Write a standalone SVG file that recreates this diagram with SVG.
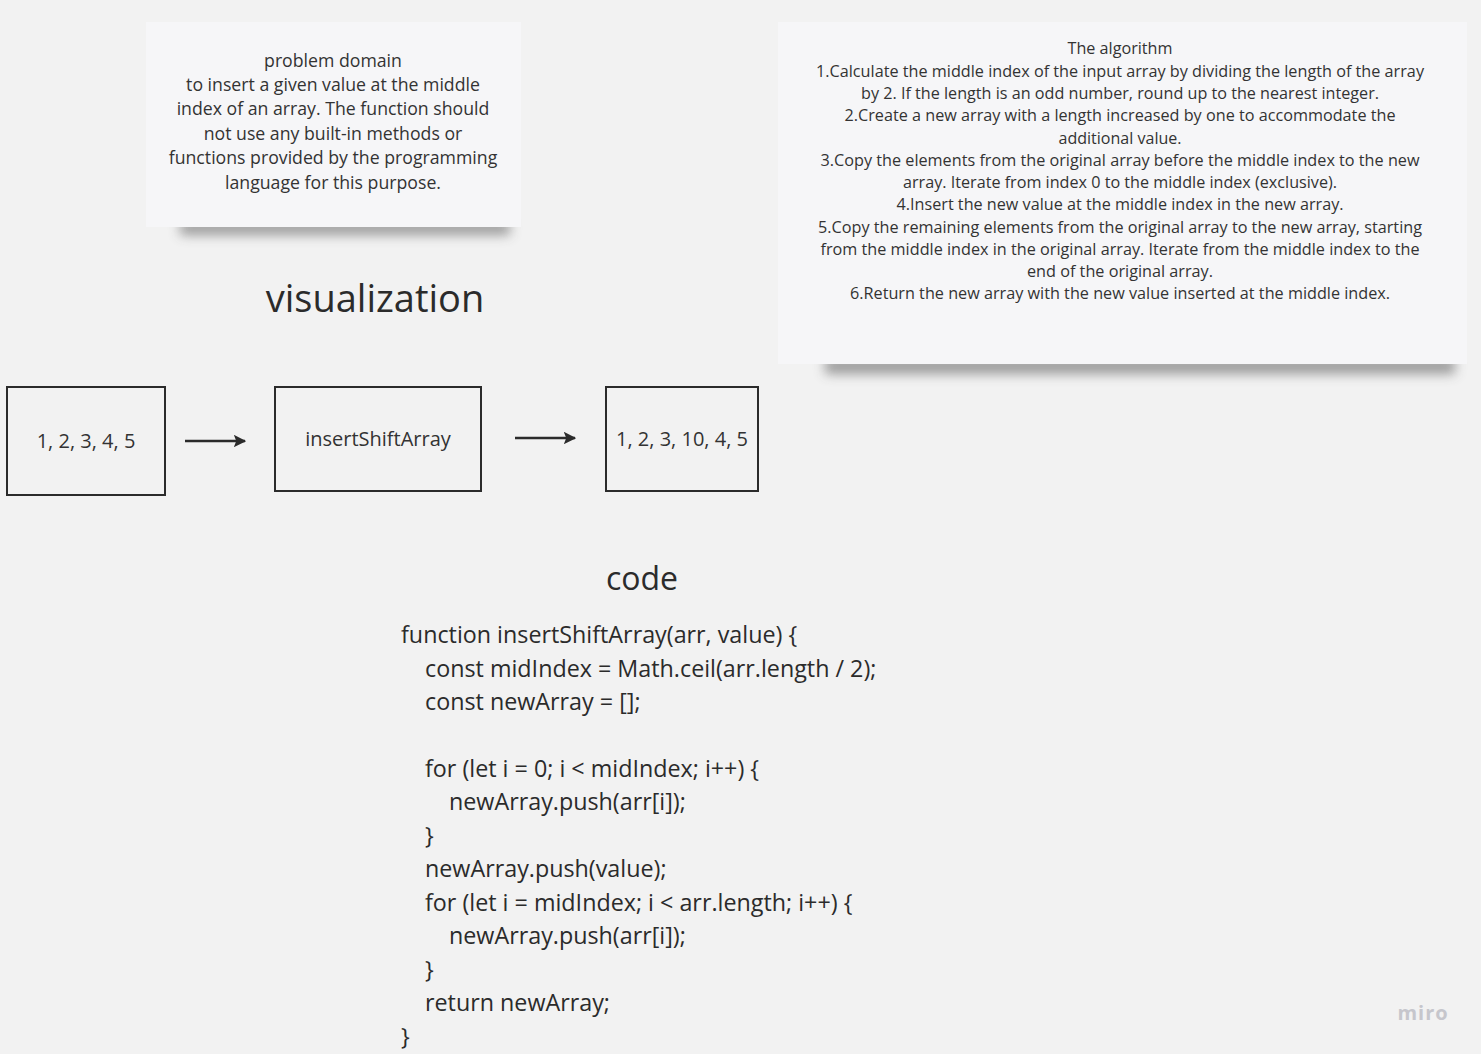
<svg xmlns="http://www.w3.org/2000/svg" width="1481" height="1054" viewBox="0 0 1481 1054">
<defs>
<filter id="sh" x="-20%" y="-100%" width="140%" height="300%"><feGaussianBlur stdDeviation="6"/></filter>
<marker id="ah" viewBox="0 0 10 10" refX="9" refY="5" markerWidth="5" markerHeight="5" orient="auto" markerUnits="strokeWidth"><path d="M0,0 L10,5 L0,10 L2,5 z" fill="#2b2b2b"/></marker>
<style>
text{font-family:"Open Sans","Noto Sans","Liberation Sans",sans-serif;fill:#2b2b2b}
.pd{font-size:17.7px;text-anchor:middle;fill:#333}
.al{font-size:15.5px;text-anchor:middle;fill:#333}
.box{fill:none;stroke:#2b2b2b;stroke-width:2}
.bt{font-size:20px;text-anchor:middle;fill:#333}
.code{font-size:23.3px;fill:#2b2b2b}
.conn{stroke:#2b2b2b;stroke-width:2.5;fill:none}
.logo{font-size:20px;font-weight:bold;text-anchor:middle;fill:#c6c6cc;letter-spacing:1px}
</style>
</defs>
<rect width="1481" height="1054" fill="#f2f2f2"/>

<g id="problem-domain">
<rect x="180" y="221" width="330" height="14" fill="#444" opacity="0.5" filter="url(#sh)"/>
<rect x="146" y="22" width="375" height="205" fill="#f6f6f8"/>
<text class="pd" x="333" y="67">problem domain</text>
<text class="pd" x="333" y="91">to insert a given value at the middle</text>
<text class="pd" x="333" y="115">index of an array. The function should</text>
<text class="pd" x="333" y="140">not use any built-in methods or</text>
<text class="pd" x="333" y="164">functions provided by the programming</text>
<text class="pd" x="333" y="189">language for this purpose.</text>
</g>

<g id="algorithm">
<rect x="825" y="358" width="630" height="16" fill="#444" opacity="0.5" filter="url(#sh)"/>
<rect x="778" y="22" width="689" height="342" fill="#f6f6f8"/>
<text class="al" x="1120" y="54" textLength="105" lengthAdjust="spacingAndGlyphs">The algorithm</text>
<text class="al" x="1120" y="77" textLength="608" lengthAdjust="spacingAndGlyphs">1.Calculate the middle index of the input array by dividing the length of the array</text>
<text class="al" x="1120" y="99" textLength="518" lengthAdjust="spacingAndGlyphs">by 2. If the length is an odd number, round up to the nearest integer.</text>
<text class="al" x="1120" y="121" textLength="551" lengthAdjust="spacingAndGlyphs">2.Create a new array with a length increased by one to accommodate the</text>
<text class="al" x="1120" y="144" textLength="123" lengthAdjust="spacingAndGlyphs">additional value.</text>
<text class="al" x="1120" y="166" textLength="599" lengthAdjust="spacingAndGlyphs">3.Copy the elements from the original array before the middle index to the new</text>
<text class="al" x="1120" y="188" textLength="434" lengthAdjust="spacingAndGlyphs">array. Iterate from index 0 to the middle index (exclusive).</text>
<text class="al" x="1120" y="210" textLength="447" lengthAdjust="spacingAndGlyphs">4.Insert the new value at the middle index in the new array.</text>
<text class="al" x="1120" y="233" textLength="604" lengthAdjust="spacingAndGlyphs">5.Copy the remaining elements from the original array to the new array, starting</text>
<text class="al" x="1120" y="255" textLength="599" lengthAdjust="spacingAndGlyphs">from the middle index in the original array. Iterate from the middle index to the</text>
<text class="al" x="1120" y="277" textLength="186" lengthAdjust="spacingAndGlyphs">end of the original array.</text>
<text class="al" x="1120" y="299" textLength="540" lengthAdjust="spacingAndGlyphs">6.Return the new array with the new value inserted at the middle index.</text>
</g>

<g id="title-visualization">
<text x="375" y="312" font-size="38" text-anchor="middle">visualization</text>
</g>

<g id="input">
<rect class="box" x="7" y="387" width="158" height="108"/>
<text class="bt" x="86" y="448">1, 2, 3, 4, 5</text>
</g>
<g id="insertShiftArray">
<rect class="box" x="275" y="387" width="206" height="104"/>
<text class="bt" x="378" y="446">insertShiftArray</text>
</g>
<g id="output">
<rect class="box" x="606" y="387" width="152" height="104"/>
<text class="bt" x="682" y="446">1, 2, 3, 10, 4, 5</text>
</g>

<g id="connectors">
<line class="conn" x1="185" y1="441" x2="245" y2="441" marker-end="url(#ah)"/>
<line class="conn" x1="515" y1="438" x2="575" y2="438" marker-end="url(#ah)"/>
</g>

<g id="title-code">
<text x="642" y="590" font-size="32" text-anchor="middle">code</text>
</g>

<g id="code">
<text class="code" x="401" y="643">function insertShiftArray(arr, value) {</text>
<text class="code" x="425" y="677">const midIndex = Math.ceil(arr.length / 2);</text>
<text class="code" x="425" y="710">const newArray = [];</text>
<text class="code" x="425" y="777">for (let i = 0; i &lt; midIndex; i++) {</text>
<text class="code" x="449" y="810">newArray.push(arr[i]);</text>
<text class="code" x="425" y="844">}</text>
<text class="code" x="425" y="877">newArray.push(value);</text>
<text class="code" x="425" y="911">for (let i = midIndex; i &lt; arr.length; i++) {</text>
<text class="code" x="449" y="944">newArray.push(arr[i]);</text>
<text class="code" x="425" y="978">}</text>
<text class="code" x="425" y="1011">return newArray;</text>
<text class="code" x="401" y="1045">}</text>
</g>

<g id="miro-logo">
<text class="logo" x="1423" y="1020">miro</text>
</g>
</svg>
